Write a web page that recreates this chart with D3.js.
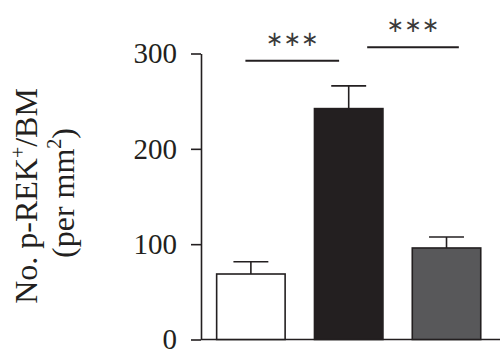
<!DOCTYPE html>
<html>
<head>
<meta charset="utf-8">
<script src="https://cdn.jsdelivr.net/npm/d3@7"></script>
<style>
  html, body { margin: 0; padding: 0; background: #fff; }
  svg { display: block; }
</style>
</head>
<body>
<svg id="chart" width="500" height="359"></svg>
<script>
// ---- data ----
const categories = ["Control", "Model", "Treatment"];
const values = [68.7, 242.2, 96];
const errors = [12.9, 23.8, 11.5];
const barColors = ["#ffffff", "#231f20", "#58585a"];
const yTicks = [0, 100, 200, 300];
const comparisons = [
  { from: "Control", to: "Model", level: 292.5, label: "∗∗∗" },
  { from: "Model", to: "Treatment", level: 306.6, label: "∗∗∗" }
];
const yLabelLines = ["No. p-REK", "(per mm"];

// ---- layout ----
const ink = "#231f20";
const svg = d3.select("#chart");
const y = d3.scaleLinear().domain([0, 300]).range([339.5, 53.5]);
const x = d3.scaleBand().domain(categories).range([201, 496.4])
  .paddingInner(0.3).paddingOuter(0.16);
const bw = x.bandwidth();

// baseline
svg.append("line")
  .attr("x1", 201).attr("x2", 500)
  .attr("y1", y(0)).attr("y2", y(0))
  .attr("stroke", ink).attr("stroke-width", 1.6);

// y axis
const yAxis = svg.append("g")
  .attr("transform", "translate(201,0)")
  .call(d3.axisLeft(y).tickValues(yTicks).tickSize(10).tickSizeOuter(0).tickPadding(14));
yAxis.select(".domain").attr("stroke", ink).attr("stroke-width", 1.6);
yAxis.selectAll(".tick line").attr("stroke", ink).attr("stroke-width", 1.6);
yAxis.selectAll(".tick text")
  .attr("fill", ink)
  .style("font-family", "'Liberation Serif', 'Times New Roman', serif")
  .style("font-size", "29px");

// bars
const data = categories.map((c, i) => ({ c, v: values[i], e: errors[i], col: barColors[i] }));
const capW = bw * 0.51;

const g = svg.append("g");
g.selectAll("line.err")
  .data(data).enter().append("line")
  .attr("class", "err")
  .attr("x1", d => x(d.c) + bw / 2).attr("x2", d => x(d.c) + bw / 2)
  .attr("y1", d => y(d.v)).attr("y2", d => y(d.v + d.e))
  .attr("stroke", ink).attr("stroke-width", 1.6);
g.selectAll("line.cap")
  .data(data).enter().append("line")
  .attr("class", "cap")
  .attr("x1", d => x(d.c) + bw / 2 - capW / 2).attr("x2", d => x(d.c) + bw / 2 + capW / 2)
  .attr("y1", d => y(d.v + d.e)).attr("y2", d => y(d.v + d.e))
  .attr("stroke", ink).attr("stroke-width", 1.6);
g.selectAll("rect.bar")
  .data(data).enter().append("rect")
  .attr("class", "bar")
  .attr("x", d => x(d.c)).attr("width", bw)
  .attr("y", d => y(d.v)).attr("height", d => y(0) - y(d.v))
  .attr("fill", d => d.col)
  .attr("stroke", ink).attr("stroke-width", 1.6);

// significance brackets
const startFrac = [0.42, 0.77];
const endFrac = [0.36, 0.68];
comparisons.forEach((cmp, i) => {
  const x1 = x(cmp.from) + bw * startFrac[i];
  const x2 = x(cmp.to) + bw * endFrac[i];
  const yy = y(cmp.level);
  svg.append("line")
    .attr("x1", x1).attr("x2", x2).attr("y1", yy).attr("y2", yy)
    .attr("stroke", ink).attr("stroke-width", 2);
  svg.append("text")
    .attr("x", (x1 + x2) / 2).attr("y", yy - 15)
    .attr("text-anchor", "middle")
    .attr("fill", "#3a3a3a")
    .style("font-family", "'DejaVu Sans', sans-serif")
    .style("font-size", "21px")
    .text(cmp.label);
});

// y label
const lab = svg.append("text")
  .attr("transform", "translate(36.5,196) rotate(-90)")
  .attr("text-anchor", "middle")
  .attr("fill", ink)
  .style("font-family", "'Liberation Serif', 'Times New Roman', serif")
  .style("font-size", "32px");
const t1 = lab.append("tspan").attr("x", 0).attr("y", 0);
t1.append("tspan").text(yLabelLines[0]);
t1.append("tspan").attr("dy", -12).style("font-size", "20px").text("+");
t1.append("tspan").attr("dy", 12).text("/BM");
const lab2 = svg.append("text")
  .attr("transform", "translate(74,193) rotate(-90)")
  .attr("text-anchor", "middle")
  .attr("fill", ink)
  .style("font-family", "'Liberation Serif', 'Times New Roman', serif")
  .style("font-size", "32px");
lab2.append("tspan").text(yLabelLines[1]);
lab2.append("tspan").attr("dy", -13).style("font-size", "20px").text("2");
lab2.append("tspan").attr("dy", 13).text(")");
</script>
</body>
</html>
